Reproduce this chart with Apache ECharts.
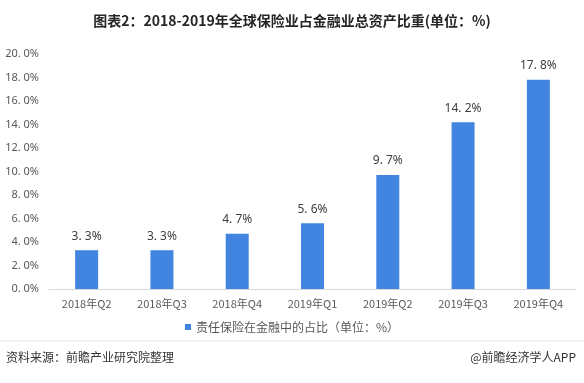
<!DOCTYPE html>
<html><head><meta charset="utf-8">
<script src="https://cdn.jsdelivr.net/npm/echarts@6/dist/echarts.min.js"></script>
<style>html,body{margin:0;padding:0;background:#fff}#c{width:584px;height:383px}</style>
</head><body><div id="c"></div>
<script>
const categories = ['2018年Q2','2018年Q3','2018年Q4','2019年Q1','2019年Q2','2019年Q3','2019年Q4'];
const values = [3.3, 3.3, 4.7, 5.6, 9.7, 14.2, 17.8];
const seriesName = '责任保险在金融中的占比（单位：%）';
const titleText = '图表2：2018-2019年全球保险业占金融业总资产比重(单位：%)';
const sourceText = '资料来源：前瞻产业研究院整理';
const brandText = '@前瞻经济学人APP';
const fmt = v => v.toFixed(1).replace('.', '. ') + '%';
const chart = echarts.init(document.getElementById('c'), null, {renderer:'canvas'});
chart.setOption({
  animation:false,
  backgroundColor:'#fff',
  title:{text:titleText,left:'center',top:9,textStyle:{fontFamily:'Noto Sans CJK SC',fontSize:14,fontWeight:'bold',color:'#262626'}},
  graphic:[
    {type:'line',shape:{x1:0,y1:341,x2:584,y2:341},style:{stroke:'#e6e6e6',lineWidth:1}},
    {type:'text',left:6,top:351,style:{text:sourceText,font:'12px "Noto Sans CJK SC"',fill:'#333'}},
    {type:'text',right:8,top:351,style:{text:brandText,font:'12px "Noto Sans CJK SC"',fill:'#333'}}
  ],
  legend:{bottom:45,left:'center',itemWidth:6,itemHeight:6,itemGap:4,icon:'rect',
    textStyle:{fontFamily:'Noto Sans CJK SC',fontSize:12,color:'#595959'},data:[seriesName]},
  grid:{left:49,right:8,top:54,bottom:94,containLabel:false},
  xAxis:{type:'category',data:categories,
    axisLine:{lineStyle:{color:'#d9d9d9'}},axisTick:{show:false},
    axisLabel:{fontFamily:'Noto Sans CJK SC',fontSize:11,color:'#595959',margin:9}},
  yAxis:{type:'value',min:0,max:20,interval:2,
    splitLine:{show:false},axisLine:{show:false},axisTick:{show:false},
    axisLabel:{formatter:fmt,fontFamily:'Noto Sans',fontSize:11,color:'#595959',margin:10}},
  series:[{name:seriesName,type:'bar',data:values,barWidth:23,
    itemStyle:{color:'#4285e0'},
    label:{show:true,position:'top',distance:8,formatter:p=>fmt(p.value),fontFamily:'Noto Sans',fontSize:12,color:'#404040'}}]
});
</script></body></html>
